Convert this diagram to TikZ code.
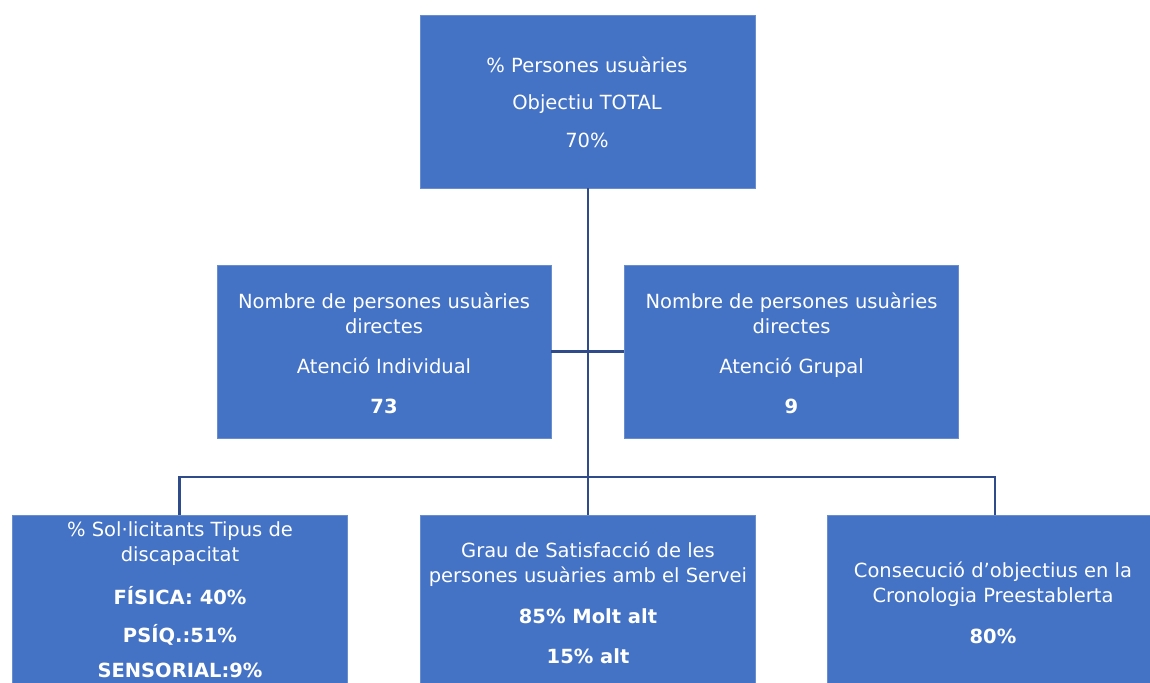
\documentclass[tikz,border=0pt]{standalone}
\usepackage{fontspec}
\setmainfont{DejaVu Sans}
\definecolor{boxblue}{HTML}{4472C4}
\definecolor{linenavy}{HTML}{2F4B8A}
\tikzset{
  box/.style={rectangle, fill=boxblue, draw=boxblue!80!white, line width=0.8pt, inner sep=0pt, minimum height=173pt},
  boxtext/.style={text=white, align=center, inner sep=0pt, font=\fontsize{19.5}{25}\selectfont},
  conn/.style={draw=linenavy, line width=2.8pt}
}
\begin{document}
\begin{tikzpicture}[x=1pt,y=-1pt]
\useasboundingbox (0,0) rectangle (1150,682);
\clip (0,0) rectangle (1150,682);
\fill[white] (0,0) rectangle (1150,682);
% boxes
\node[box, minimum width=335pt] (top) at (587.5,101.5) {};
\node[box, minimum width=334pt] (midL) at (384,351.5) {};
\node[box, minimum width=334pt] (midR) at (791.5,351.5) {};
\node[box, minimum width=335pt] (botL) at (179.5,601.5) {};
\node[box, minimum width=335pt] (botM) at (588,601.5) {};
\node[box, minimum width=335pt] (botR) at (995,601.5) {};
\coordinate (bus) at (588,477);
% connectors
\draw[conn] (top.south -| bus) -- (bus);
\draw[conn] (midL.east) -- (midR.west);
\draw[conn] (botL.north) |- (bus) -| (botR.north);
\draw[conn] (bus) -- (botM.north);
% texts
\node[boxtext] (t0) at (587,102) {\% Persones usuàries\\[12pt]Objectiu TOTAL\\[13pt]70\%};
\node[boxtext] (t1) at (384,353) {Nombre de persones usuàries\\directes\\[15pt]Atenció Individual\\[15pt]\textbf{73}};
\node[boxtext] (t2) at (791.5,353) {Nombre de persones usuàries\\directes\\[15pt]Atenció Grupal\\[15pt]\textbf{9}};
\node[boxtext] (t3) at (180,600) {\% Sol·licitants Tipus de\\discapacitat\\[18pt]\textbf{FÍSICA: 40\%}\\[13pt]\textbf{PSÍQ.:51\%}\\[10pt]\textbf{SENSORIAL:9\%}};
\node[boxtext] (t4) at (588,603) {Grau de Satisfacció de les\\persones usuàries amb el Servei\\[16pt]\textbf{85\% Molt alt}\\[15pt]\textbf{15\% alt}};
\node[boxtext] (t5) at (993,603) {Consecució d’objectius en la\\Cronologia Preestablerta\\[16pt]\textbf{80\%}};
\end{tikzpicture}
\end{document}
